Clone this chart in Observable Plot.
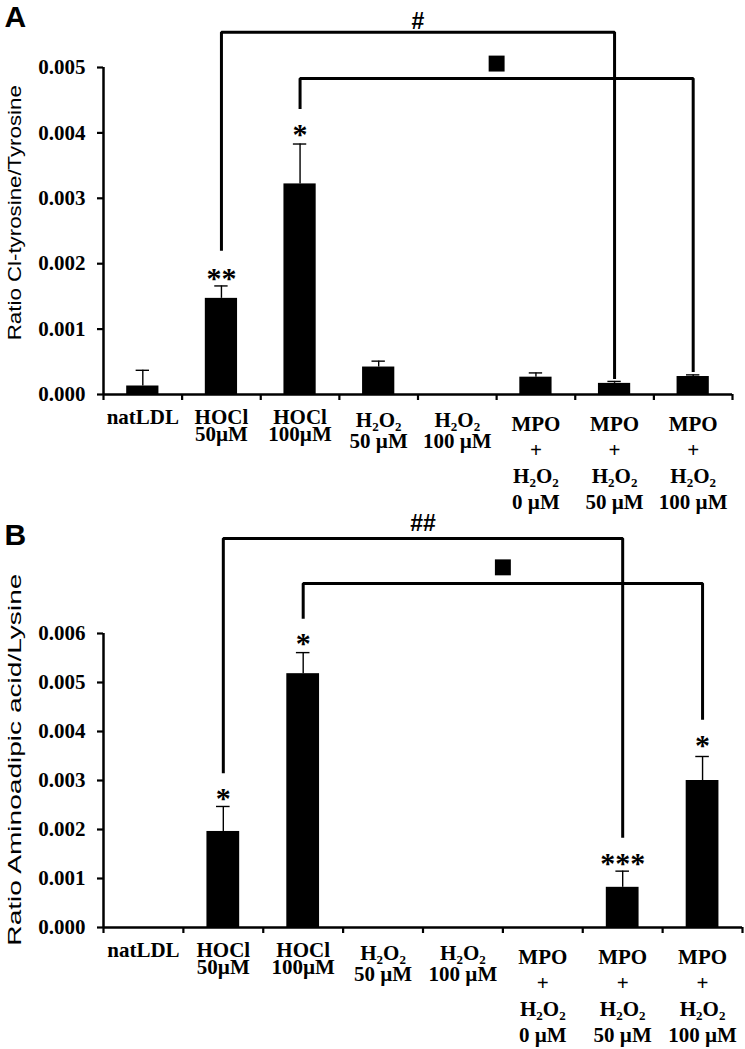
<!DOCTYPE html>
<html><head><meta charset="utf-8">
<script src="https://cdn.jsdelivr.net/npm/d3@7"></script>
<script src="https://cdn.jsdelivr.net/npm/@observablehq/plot@0.6"></script>
<style>
body{margin:0;background:#fff;}
#chart svg{display:block;overflow:visible;background:none;}
</style></head><body><div id="chart"></div>
<script>
// ---------- data ----------
const categories = ["natLDL","HOCl\n50µM","HOCl\n100µM","H2O2\n50 µM","H2O2\n100 µM",
  "MPO\n+\nH2O2\n0 µM","MPO\n+\nH2O2\n50 µM","MPO\n+\nH2O2\n100 µM"];
const catBounds = [-0.5,0.5,1.5,2.5,3.5,4.5,5.5,6.5,7.5];

// Panel A: Cl-tyrosine / tyrosine
const meansA = [0.00013,0.00147,0.00322,0.00042,0,0.000265,0.00017,0.000275];
const errA   = [0.00024,0.00019,0.00061,0.00009,0,0.000065,0.00003,0.000025];
const ticksA = [0,0.001,0.002,0.003,0.004,0.005];
const starIdxA = [1,2];
const starTextA = ["**","*"];
const starYA = [0.00187,0.00407];
const brFromA = [1,2], brToA = [6,7];
const brTopA = [0.00554,0.00483];
const brLeftEndA = [0.00222,0.00439];
const brRightEndA = [0.00026,0.000367];
const hashTextA = "#", hashYA = 0.00572, squareYA = 0.00506;
const titleA = "Ratio Cl-tyrosine/Tyrosine";
const titleStartA = 0.00083;

// Panel B: aminoadipic acid / lysine
const meansB = [0,0.00196,0.00518,0,0,0,0.00082,0.00300];
const errB   = [0,0.00051,0.00043,0,0,0,0.00033,0.00049];
const ticksB = [0,0.001,0.002,0.003,0.004,0.005,0.006];
const starIdxB = [1,2,6,7];
const starTextB = ["*","*","***","*"];
const starYB = [0.00276,0.00592,0.00143,0.00384];
const brFromB = [1,2], brToB = [6,7];
const brTopB = [0.00794,0.00702];
const brLeftEndB = [0.00318,0.00633];
const brRightEndB = [0.00186,0.00427];
const hashTextB = "##", hashYB = 0.00827, squareYB = 0.00735;
const titleB = "Ratio Aminoadipic acid/Lysine";
const titleStartB = -0.00037;

const SERIF = "'Liberation Serif','Times New Roman',serif";
const SANS = "'Liberation Sans',Arial,sans-serif";

function panel(cfg){
  const bars = cfg.means.map((m,i)=>({i, mean:m, err:cfg.errs[i]}));
  const errs = bars.filter(d=>d.err>0);
  const labels = categories.map((t,i)=>({i,t,n:t.split("\n").length}));
  const hocl = labels.filter(d=>d.n<=2 && !d.t.includes("H2O2"));
  const h2o2 = labels.filter(d=>d.n===2 && d.t.includes("H2O2"));
  const tall = labels.filter(d=>d.n>2);
  const stars = cfg.starIdx.map((i,k)=>({i, t:cfg.starText[k], y:cfg.starY[k]}));
  const br = [];
  cfg.brFrom.forEach((f,k)=>{
    br.push({k,x:f,y:cfg.brLeftEnd[k]},{k,x:f,y:cfg.brTop[k]},
            {k,x:cfg.brTo[k],y:cfg.brTop[k]},{k,x:cfg.brTo[k],y:cfg.brRightEnd[k]});
  });
  const yMax = cfg.ticks[cfg.ticks.length-1];
  const lab = {x:"i", y:0, text:"t", lineAnchor:"top", dy:18, fontSize:21, fontWeight:"bold", fontFamily:SERIF};
  return Plot.plot({
    width:745, height:cfg.height,
    marginTop:cfg.marginTop, marginBottom:cfg.marginBottom,
    marginLeft:103, marginRight:cfg.marginRight,
    x:{domain:[-0.5,7.5]},
    y:{domain:[0,yMax]},
    style:{fontFamily:SERIF, fontSize:"21px", fontWeight:"bold", background:"none", color:"black"},
    marks:[
      Plot.rectY(bars,{x1:d=>d.i-0.205, x2:d=>d.i+0.205, y1:0, y2:"mean", fill:"black"}),
      Plot.ruleX(errs,{x:"i", y1:"mean", y2:d=>d.mean+d.err, stroke:"black", strokeWidth:1.4}),
      Plot.ruleY(errs,{y:d=>d.mean+d.err, x1:d=>d.i-0.085, x2:d=>d.i+0.085, stroke:"black", strokeWidth:1.4}),
      Plot.ruleY([0],{x1:-0.5, x2:7.5, stroke:"black", strokeWidth:2.5}),
      Plot.ruleX([-0.5],{y1:0, y2:yMax, stroke:"black", strokeWidth:2.5}),
      Plot.axisY({ticks:cfg.ticks, tickFormat:d3.format(".3f"), tickSize:6, tickPadding:12,
        label:null, strokeWidth:2.2, fontSize:21, fontWeight:"bold", fontFamily:SERIF}),
      Plot.axisX({ticks:catBounds, tickFormat:()=>"", tickSize:6, label:null, strokeWidth:2.2}),
      Plot.text(hocl,{...lab, lineHeight:0.8}),
      Plot.text(h2o2,{...lab, lineHeight:1.0}),
      Plot.text(tall,{...lab, lineHeight:1.24}),
      Plot.line(br,{x:"x", y:"y", z:"k", stroke:"black", strokeWidth:3, strokeLinejoin:"miter", strokeLinecap:"square"}),
      Plot.text(stars,{x:"i", y:"y", text:"t", dy:6, fontSize:30, fontWeight:"bold", fontFamily:SERIF}),
      Plot.text([cfg.hashText],{x:(cfg.brFrom[0]+cfg.brTo[0])/2, y:cfg.hashY, text:d=>d, dy:1,
        fontSize:23, fontWeight:"bold", fontFamily:SANS}),
      Plot.dot([0],{x:(cfg.brFrom[1]+cfg.brTo[1])/2, y:cfg.squareY, symbol:"square", r:9, fill:"black", stroke:null}),
      Plot.text([cfg.title],{frameAnchor:"left", y:cfg.titleStart, dx:-89, rotate:-90, text:d=>d,
        textAnchor:"start", fontSize:19, fontWeight:"normal", fontFamily:SANS}),
      Plot.text([cfg.letter],{frameAnchor:"top-left", dx:-99, dy:cfg.letterDy, text:d=>d,
        textAnchor:"start", lineAnchor:"top", fontSize:30, fontWeight:"bold", fontFamily:SANS})
    ]
  });
}

function postProcess(svg, titleLen){
  const ns = "http://www.w3.org/2000/svg";
  svg.querySelectorAll("text").forEach(el=>{
    if (el.textContent.startsWith("Ratio")) {
      el.setAttribute("textLength", titleLen);
      el.setAttribute("lengthAdjust","spacingAndGlyphs");
    }
  });
  // chemical formula subscripts: split the line tspan into sibling tspans
  svg.querySelectorAll("tspan").forEach(el=>{
    if (el.childNodes.length===1 && el.firstChild.nodeType===3 && el.textContent.includes("H2O2")) {
      const s = el.textContent;
      const pieces = [];
      let buf = "";
      for (let k=0;k<s.length;k++){
        const c = s[k];
        if (c==="2" && /[A-Z]/.test(s[k-1]||"")) {
          if (buf) pieces.push({t:buf, sub:false});
          buf = "";
          pieces.push({t:"2", sub:true});
        } else buf += c;
      }
      if (buf) pieces.push({t:buf, sub:false});
      el.textContent = pieces[0].t;
      let prev = el;
      pieces.slice(1).forEach(p=>{
        const t = document.createElementNS(ns,"tspan");
        if (p.sub) t.setAttribute("style","baseline-shift:-4px;font-size:13px");
        t.textContent = p.t;
        prev.after(t);
        prev = t;
      });
    }
  });
  return svg;
}

const svgA = panel({height:515, marginTop:67, marginBottom:121, marginRight:13,
  means:meansA, errs:errA, ticks:ticksA, starIdx:starIdxA, starText:starTextA, starY:starYA,
  brFrom:brFromA, brTo:brToA, brTop:brTopA, brLeftEnd:brLeftEndA, brRightEnd:brRightEndA,
  hashText:hashTextA, hashY:hashYA, squareY:squareYA, title:titleA, titleStart:titleStartA,
  letter:"A", letterDy:-62});
const svgB = panel({height:534, marginTop:118, marginBottom:122, marginRight:3,
  means:meansB, errs:errB, ticks:ticksB, starIdx:starIdxB, starText:starTextB, starY:starYB,
  brFrom:brFromB, brTo:brToB, brTop:brTopB, brLeftEnd:brLeftEndB, brRightEnd:brRightEndB,
  hashText:hashTextB, hashY:hashYB, squareY:squareYB, title:titleB, titleStart:titleStartB,
  letter:"B", letterDy:-110});
const chart = document.getElementById("chart");
chart.appendChild(postProcess(svgA, 255));
chart.appendChild(postProcess(svgB, 372));
</script></body></html>
